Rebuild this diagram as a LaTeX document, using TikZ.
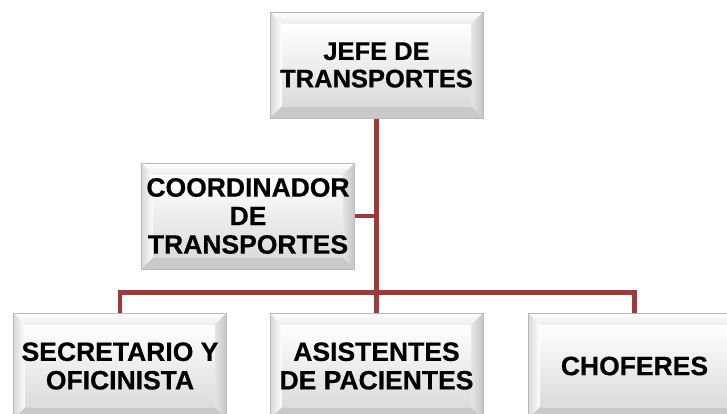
\documentclass[tikz,border=0pt]{standalone}
\usepackage{fontspec}
\setmainfont{Liberation Sans}
\newfontfamily\boxfamily{Liberation Sans Bold}[FakeBold=0.6]
\usepackage{tikz}
\usetikzlibrary{calc,positioning,backgrounds}

\definecolor{linkred}{RGB}{162,56,56}
\newcommand{\bevelfont}{\boxfamily\fontsize{26.5}{28.5}\selectfont}

\tikzset{
  bevelbox/.style={draw=gray!55, line width=0.6pt, minimum width=213pt, minimum height=106pt,
    inner sep=0pt, align=center, font=\bevelfont,
    path picture={
      \path (path picture bounding box.north west) coordinate (o1)
            (path picture bounding box.south east) coordinate (o2);
      \path ($(o1)+(12pt,-12pt)$) coordinate (i1)
            ($(o2)+(-12pt,12pt)$) coordinate (i2);
      \shade[top color=white, bottom color=gray!15] (o1) -- (o1 -| o2) -- (i1 -| i2) -- (i1) -- cycle;
      \shade[left color=gray!30, right color=white] (o1) -- (i1) -- (i1 |- i2) -- (o1 |- o2) -- cycle;
      \shade[left color=gray!20, right color=gray!45] (o1 -| o2) -- (o2) -- (i2) -- (i1 -| i2) -- cycle;
      \fill[gray!42] (o1 |- o2) -- (o2) -- (i2) -- (i1 |- i2) -- cycle;
      \shade[top color=white, bottom color=gray!28] (i1) rectangle (i2);
    }},
  topbox/.style={bevelbox, font=\boxfamily\fontsize{25.5}{27.5}\selectfont},
  link/.style={draw=linkred, line width=4.5pt, line join=miter}
}

\begin{document}
\begin{tikzpicture}[x=1pt, y=-1pt]

\useasboundingbox (0,0) rectangle (727,413);
\clip (0,0) rectangle (727,413);

\node (jefe) at (376.5, 65) [topbox] {JEFE DE\\TRANSPORTES};

\node (coord) at (248, 216) [bevelbox] {COORDINADOR\\DE\\TRANSPORTES};

\node (secre) at (120, 366) [bevelbox] {SECRETARIO Y\\OFICINISTA};
\node (asist) at (376.5, 366) [bevelbox] {ASISTENTES\\DE PACIENTES};
\node (chof) at (634.5, 366) [bevelbox] {CHOFERES};

\coordinate [above=20pt of secre.north] (jsecre);
\coordinate [above=20pt of chof.north] (jchof);

\begin{scope}[on background layer]
  \draw [link] (jefe.south) -- (jefe.south |- jsecre) -- (asist.north);
  \draw [link] (coord.east) -- (coord.east -| jefe.south);
  \draw [link] (secre.north) -- (jsecre) -- (jchof) -- (chof.north);
\end{scope}

\end{tikzpicture}
\end{document}
